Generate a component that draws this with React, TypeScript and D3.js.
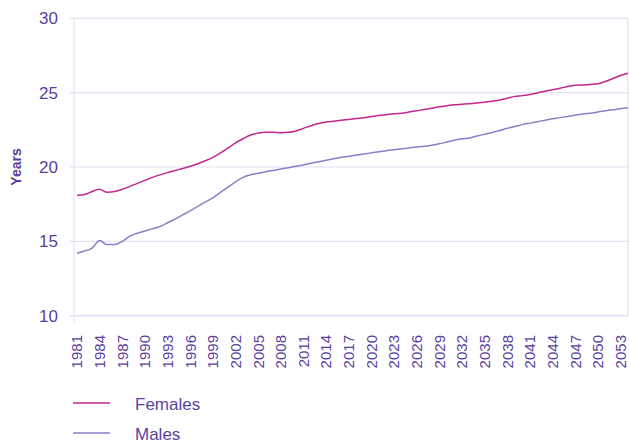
import React, { useEffect, useRef } from "react";
import * as d3 from "d3";

const years = d3.range(1981, 2055);
const tickYears = d3.range(1981, 2054, 3);
const yTicks = [10, 15, 20, 25, 30];

const females = [
  18.1, 18.15, 18.35, 18.5, 18.3, 18.35, 18.5, 18.7, 18.9, 19.1,
  19.3, 19.47, 19.62, 19.76, 19.9, 20.05, 20.22, 20.42, 20.65, 20.95,
  21.28, 21.62, 21.9, 22.15, 22.28, 22.33, 22.33, 22.31, 22.33, 22.42,
  22.6, 22.78, 22.92, 23.02, 23.08, 23.14, 23.2, 23.26, 23.32, 23.39,
  23.46, 23.52, 23.58, 23.62, 23.7, 23.78, 23.87, 23.95, 24.05, 24.12,
  24.18, 24.22, 24.26, 24.3, 24.35, 24.42, 24.5, 24.62, 24.75, 24.8,
  24.88, 24.98, 25.1, 25.2, 25.3, 25.42, 25.5, 25.52, 25.55, 25.6,
  25.75, 25.95, 26.15, 26.3,
];

const males = [
  14.2, 14.35, 14.55, 15.05, 14.78, 14.78, 15.0, 15.35, 15.55, 15.7,
  15.85, 16.0, 16.25, 16.5, 16.78, 17.05, 17.35, 17.65, 17.92, 18.3,
  18.65, 19.0, 19.3, 19.48, 19.58, 19.68, 19.77, 19.86, 19.95, 20.05,
  20.14, 20.25, 20.35, 20.45, 20.55, 20.65, 20.72, 20.8, 20.88, 20.95,
  21.03, 21.1, 21.16, 21.22, 21.28, 21.34, 21.4, 21.47, 21.56, 21.68,
  21.8, 21.9, 21.95, 22.08, 22.2, 22.32, 22.45, 22.6, 22.72, 22.85,
  22.95, 23.05, 23.15, 23.24, 23.32, 23.4, 23.48, 23.56, 23.62, 23.7,
  23.78, 23.85, 23.92, 23.98,
];

const seriesNames = ["Females", "Males"];
const seriesColors = ["#c2278e", "#8a80c8"];

const TEXT = "#5b3fa0";
const GRID = "#e4e1f1";

const App = () => {
  const ref = useRef<SVGSVGElement | null>(null);

  useEffect(() => {
    const svg = d3.select(ref.current);
    svg.selectAll("*").remove();
    svg.style("font-family", "'Liberation Sans', Arial, sans-serif");

    const left = 74;
    const right = 628;
    const x = d3.scaleLinear().domain([1981, 2054]).range([77, 628]);
    const y = d3.scaleLinear().domain([10, 30]).range([315.7, 18.3]);

    // gridlines
    svg.append("g")
      .selectAll("line")
      .data(yTicks)
      .enter().append("line")
      .attr("x1", left - 4)
      .attr("x2", right)
      .attr("y1", d => y(d))
      .attr("y2", d => y(d))
      .attr("stroke", GRID)
      .attr("stroke-width", d => (d === 10 ? 1.6 : 1.2));

    // vertical axis + right border
    svg.append("line")
      .attr("x1", left).attr("x2", left)
      .attr("y1", y(30)).attr("y2", y(10) + 7)
      .attr("stroke", GRID).attr("stroke-width", 1.2);
    svg.append("line")
      .attr("x1", right).attr("x2", right)
      .attr("y1", y(30)).attr("y2", y(10))
      .attr("stroke", GRID).attr("stroke-width", 1.2);

    // y tick labels
    svg.append("g")
      .selectAll("text")
      .data(yTicks)
      .enter().append("text")
      .attr("x", 58)
      .attr("y", d => y(d))
      .attr("dy", "0.36em")
      .attr("text-anchor", "end")
      .style("font-size", "17px")
      .style("fill", TEXT)
      .text(d => d);

    svg.append("text")
      .attr("transform", `translate(21,167) rotate(-90)`)
      .attr("text-anchor", "middle")
      .style("font-size", "14px")
      .style("font-weight", "bold")
      .style("fill", TEXT)
      .text("Years");

    // x tick labels
    svg.append("g")
      .selectAll("text")
      .data(tickYears)
      .enter().append("text")
      .attr("transform", d => `translate(${x(d)},335) rotate(-90)`)
      .attr("dy", "0.36em")
      .attr("text-anchor", "end")
      .style("font-size", "15px")
      .style("fill", TEXT)
      .text(d => d);

    const line = d3.line<number>()
      .x((_, i) => x(years[i]))
      .y(d => y(d))
      .curve(d3.curveMonotoneX);

    [females, males].forEach((s, i) => {
      svg.append("path")
        .datum(s)
        .attr("d", line)
        .attr("fill", "none")
        .attr("stroke", seriesColors[i])
        .attr("stroke-width", 1.5);
    });

    // legend
    const legend = svg.append("g");
    seriesNames.forEach((name, i) => {
      const ly = 403 + i * 30;
      legend.append("line")
        .attr("x1", 73).attr("x2", 110)
        .attr("y1", ly).attr("y2", ly)
        .attr("stroke", seriesColors[i])
        .attr("stroke-width", 1.5);
      legend.append("text")
        .attr("x", 135)
        .attr("y", ly + 7)
        .style("font-size", "17px")
        .style("fill", TEXT)
        .text(name);
    });
  }, []);

  return <svg ref={ref} width={629} height={444} style={{ position: "absolute", left: 0, top: 0 }} />;
};

export default App;
